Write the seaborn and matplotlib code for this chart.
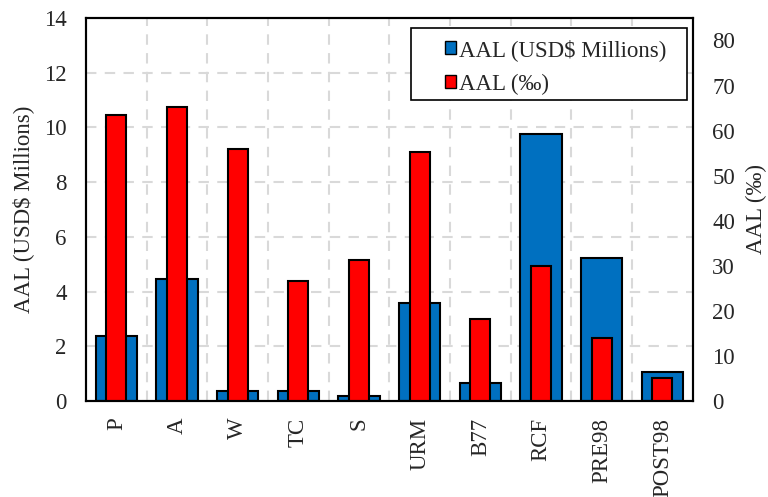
import seaborn as sns
import matplotlib.pyplot as plt
from matplotlib.patches import Patch, Rectangle

categories = ["P", "A", "W", "TC", "S", "URM", "B77", "RCF", "PRE98", "POST98"]
aal_usd = [2.38, 4.47, 0.38, 0.38, 0.18, 3.59, 0.65, 9.75, 5.24, 1.07]
aal_permil = [63.5, 65.3, 55.9, 26.6, 31.3, 55.3, 18.3, 30.0, 13.9, 5.2]

blue = "#0070C0"
red = "#FF0000"
fs = 16.5

sns.set_style("white")
plt.rcParams["font.family"] = ["Liberation Serif", "DejaVu Serif"]
plt.rcParams["font.size"] = fs

fig = plt.figure(figsize=(7.68, 4.97), dpi=100)
ax = fig.add_axes([0.112, 0.193, 0.79, 0.771])

sns.barplot(x=categories, y=aal_usd, width=0.68, color=blue,
            edgecolor="black", linewidth=1.5, saturation=1, ax=ax)
ax.set_ylim(0, 14)
ax.set_yticks(range(0, 15, 2))
ax.set_xlim(-0.5, len(categories) - 0.5)
ax.set_axisbelow(True)
ax.yaxis.grid(True, color="#d9d9d9", linestyle=(0, (5, 4)), linewidth=1.5)
ax.set_xticks([i + 0.5 for i in range(len(categories) - 1)], minor=True)
ax.xaxis.grid(True, which="minor", color="#d9d9d9", linestyle=(0, (5, 4)), linewidth=1.5)
ax.set_xticks(range(len(categories)))
ax.set_xticklabels(categories, rotation=90)
ax.set_ylabel("AAL (USD$ Millions)", fontsize=fs, labelpad=7)
ax.set_xlabel("")
ax.tick_params(axis="y", which="both", length=0, labelsize=fs, pad=14)
ax.tick_params(axis="x", which="both", length=0, labelsize=fs, pad=12)

ax2 = ax.twinx()
sns.barplot(x=categories, y=aal_permil, width=0.33, color=red,
            edgecolor="black", linewidth=1.5, saturation=1, ax=ax2)
ax2.set_ylim(0, 85)
ax2.set_yticks(range(0, 81, 10))
ax2.set_ylabel("AAL (‰)", fontsize=fs, labelpad=8)
ax2.tick_params(axis="y", length=0, labelsize=fs, pad=14)

for a in (ax, ax2):
    for s in ("left", "right", "bottom", "top"):
        a.spines[s].set_color("black")
        a.spines[s].set_linewidth(1.5)

# legend frame drawn separately for the wide side padding
ax2.add_patch(Rectangle((0.535, 0.786), 0.455, 0.188, transform=ax2.transAxes,
                        facecolor="white", edgecolor="black", linewidth=1.2,
                        zorder=5, clip_on=False))
handles = [Patch(facecolor=blue, edgecolor="black"),
           Patch(facecolor=red, edgecolor="black")]
leg = ax2.legend(handles, ["AAL (USD$ Millions)", "AAL (‰)"], loc="upper left",
                 bbox_to_anchor=(0.592, 0.946), fontsize=fs, frameon=False,
                 handlelength=0.45, handleheight=0.45, handletextpad=0.15,
                 borderpad=0, borderaxespad=0, labelspacing=0.57)
leg.set_zorder(6)

fig.savefig("out.png", dpi=100)
